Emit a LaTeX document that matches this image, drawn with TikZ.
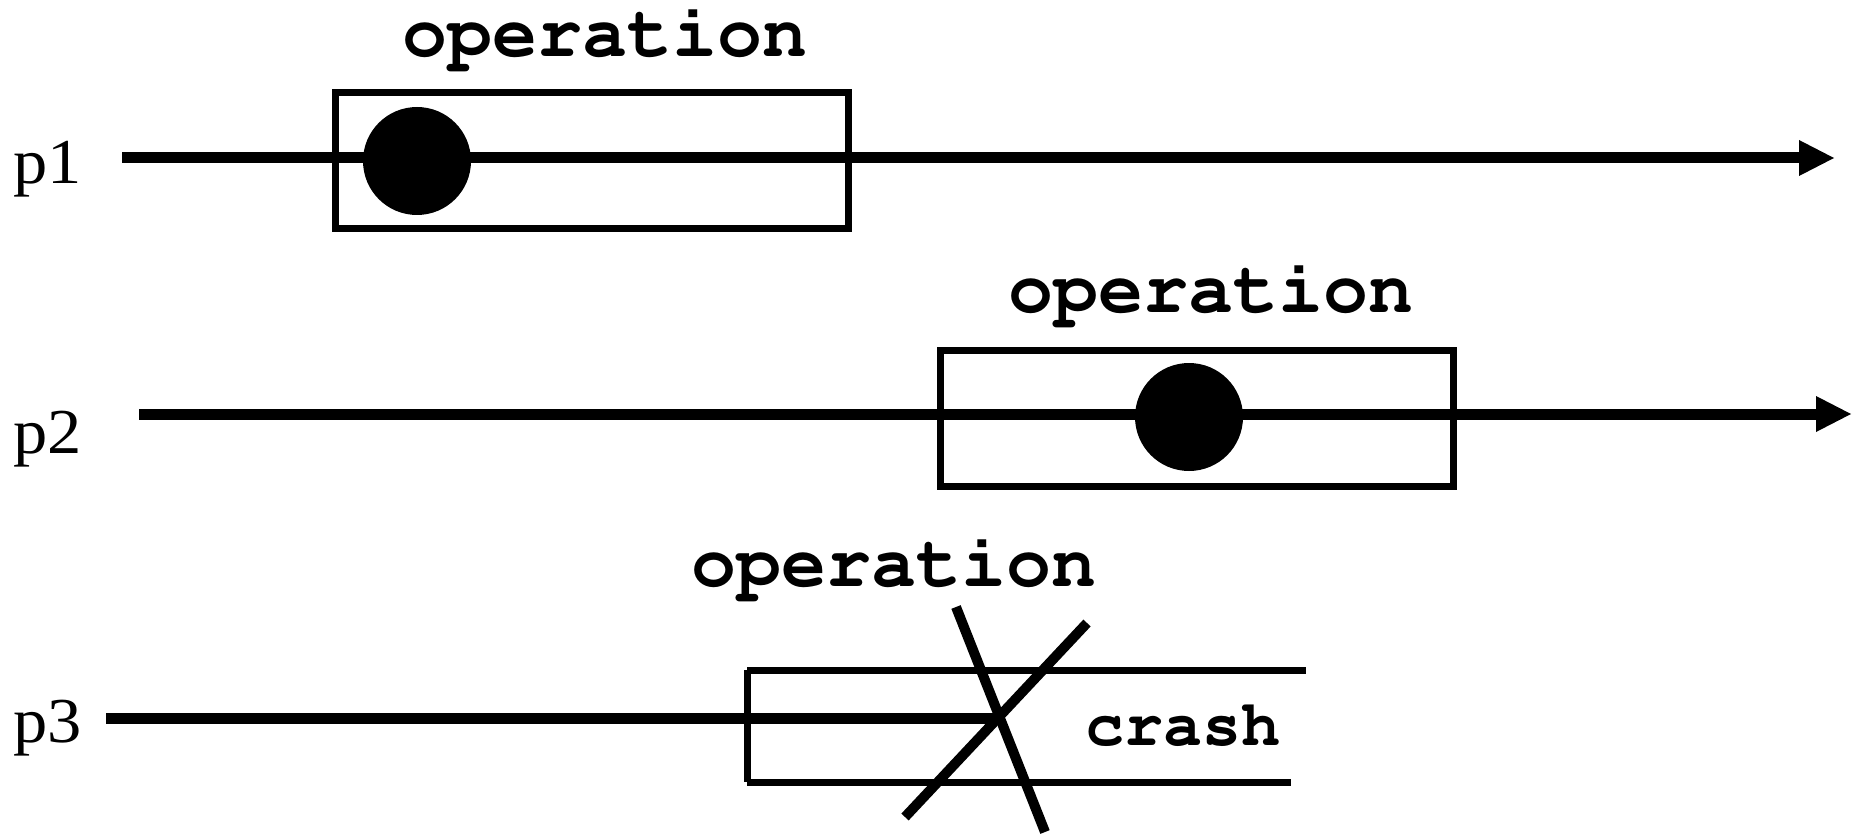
\documentclass[tikz,border=0pt]{standalone}
\usepackage[T1]{fontenc}
\usepackage{fontspec}
\setmainfont{Liberation Serif}
\usetikzlibrary{arrows.meta}
\newcommand\courbold[1]{\fontencoding{T1}\fontfamily{pcr}\fontseries{b}\fontshape{n}\fontsize{#1}{#1}\selectfont}
\tikzset{
  timeline/.style={line width=11pt, line cap=butt},
  timearrow/.style={timeline, -{Triangle[length=35pt,width=36pt,line width=0pt]}},
  opbox/.style={line width=7pt, line cap=butt},
  event/.style={circle, fill=black, draw=none, minimum size=108pt, inner sep=0pt},
  crashline/.style={line width=10pt, line cap=butt},
  optext/.style={anchor=base, inner sep=0pt, font=\courbold{75pt}},
  crashtext/.style={anchor=base, inner sep=0pt, font=\courbold{65pt}},
  plabel/.style={anchor=base west, inner sep=0pt, font=\fontsize{64pt}{64pt}\selectfont},
}
\begin{document}
\begin{tikzpicture}[x=1pt,y=-1pt]
\useasboundingbox (0,0) rectangle (1854,834);
% labels
\node[plabel] (l1) at (13,184) {\scalebox{1.07}[1]{p1}};
\node[plabel] (l2) at (13,453) {\scalebox{1.07}[1]{p2}};
\node[plabel] (l3) at (13,742) {\scalebox{1.07}[1]{p3}};
% timeline coordinates
\coordinate (s1) at (122,158);
\coordinate (e1) at (1834,158);
\coordinate (s2) at (139,414);
\coordinate (e2) at (1851,414);
\coordinate (s3) at (106,718);
\coordinate (x3) at (999,718);
% operation boxes
\draw[opbox] (335,93) rectangle (848,229);
\draw[opbox] (940,350) rectangle (1453.5,486);
\coordinate (b3tl) at (747,670);
\coordinate (b3bl) at (747,782);
\coordinate (b3tr) at (1306,670);
\coordinate (b3br) at (1291,782);
\draw[opbox] (b3tl) -- (b3bl);
\draw[opbox] (b3tl) -- (b3tr);
\draw[opbox] (b3bl) -- (b3br);
% timelines
\draw[timearrow] (s1) -- (e1);
\draw[timearrow] (s2) -- (e2);
\draw[timeline] (s3) -- (x3);
% events
\node[event] (c1) at (417,161) {};
\node[event] (c2) at (1189,417) {};
% crash cross
\coordinate (ka) at (956,607);
\coordinate (kb) at (1045,832);
\coordinate (kc) at (1087,623);
\coordinate (kd) at (905,817);
\draw[crashline] (ka) -- (kb);
\draw[crashline] (kc) -- (kd);
% texts
\node[optext] (o1) at (605,57) {operation};
\node[optext] (o2) at (1211,312) {operation};
\node[optext] (o3) at (894,586) {operation};
\node[crashtext] (cr) at (1183,745) {crash};
\end{tikzpicture}
\end{document}
